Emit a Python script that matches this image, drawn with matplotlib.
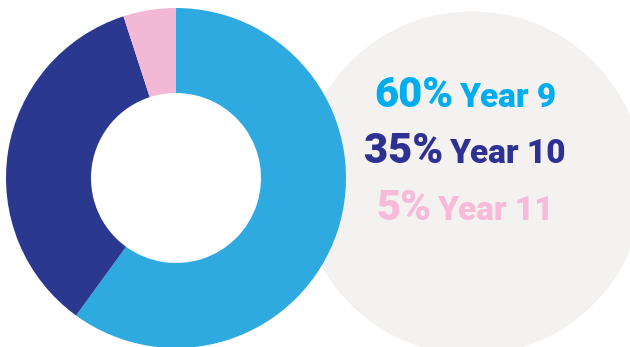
import matplotlib.pyplot as plt
from matplotlib.patches import Circle

# data
labels = ['Year 9', 'Year 10', 'Year 11']
shares = [60, 35, 5]
wedge_colors = ['#2EAAE1', '#2B388F', '#F2B8D6']
text_colors = ['#00AEEF', '#2E3192', '#F7BBD9']

W, H = 630, 347
fig = plt.figure(figsize=(W / 100, H / 100), dpi=100)
ax = fig.add_axes([0, 0, 1, 1])
ax.set_xlim(0, W)
ax.set_ylim(0, H)
ax.set_aspect('equal')
ax.axis('off')

# grey backdrop circle behind the labels
ax.add_patch(Circle((472, H - 183), 171, color='#F3F2F1', zorder=0))

# donut
ax.pie(shares, colors=wedge_colors, startangle=90, counterclock=False,
       center=(176, H - 178), radius=170, frame=True,
       wedgeprops=dict(width=85, linewidth=0))
ax.set_xlim(0, W)
ax.set_ylim(0, H)
ax.axis('off')

font = ['Roboto', 'DejaVu Sans']
baselines = [107, 163, 220]
cx = 465
gap = 6

fig.canvas.draw()
r = fig.canvas.get_renderer()
for lab, val, col, yb in zip(labels, shares, text_colors, baselines):
    t1 = ax.text(0, H - yb, f'{val}%', fontsize=30, fontweight='black',
                 color=col, family=font, va='baseline', ha='left', zorder=3)
    t2 = ax.text(0, H - yb, lab, fontsize=24, fontweight='black',
                 color=col, family=font, va='baseline', ha='left', zorder=3)
    w1 = t1.get_window_extent(r).width
    w2 = t2.get_window_extent(r).width
    x0 = cx - (w1 + gap + w2) / 2
    t1.set_x(x0)
    t2.set_x(x0 + w1 + gap)

fig.savefig('out.png', dpi=100, facecolor='white')
